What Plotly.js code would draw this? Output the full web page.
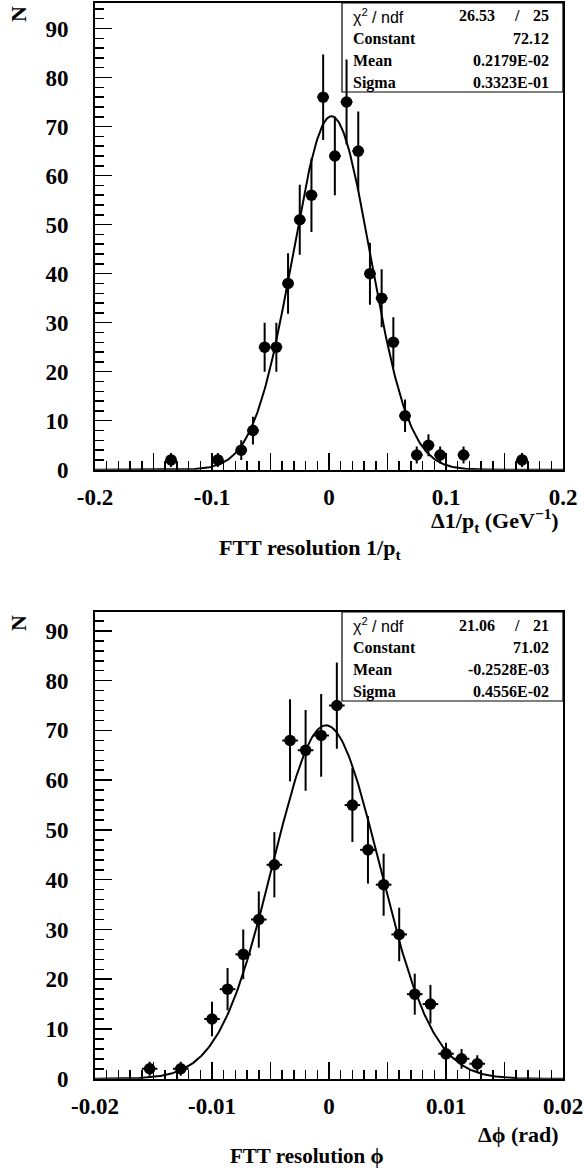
<!DOCTYPE html>
<html><head><meta charset="utf-8">
<script src="https://cdn.plot.ly/plotly-3.0.1.min.js"></script>
<style>html,body{margin:0;padding:0;background:#fff}#c{width:584px;height:1171px}</style>
</head><body><div id="c"></div>
<script>
// ---- data: FTT resolution 1/pt ----
const ptCenters = [-0.135,-0.095,-0.075,-0.065,-0.055,-0.045,-0.035,-0.025,-0.015,-0.005,0.005,0.015,0.025,0.035,0.045,0.055,0.065,0.075,0.085,0.095,0.115,0.165];
const ptCounts  = [2,2,4,8,25,25,38,51,56,76,64,75,65,40,35,26,11,3,5,3,3,2];
const ptBinHalf = 0.005;
const ptFit = [72.12, 0.2179E-02, 0.3323E-01]; // constant, mean, sigma
const ptStats = [["χ<sup>2</sup> / ndf","26.53","25"],["Constant","72.12"],["Mean","0.2179E-02"],["Sigma","0.3323E-01"]];
const ptTickVals = [-0.2,-0.15,-0.1,-0.05,0,0.05,0.1,0.15,0.2];
const ptTickText = ["-0.2","","-0.1","","0","","0.1","","0.2"];

// ---- data: FTT resolution phi ----
const phiCenters = [-0.01533,-0.01267,-0.01,-0.00867,-0.00733,-0.006,-0.00467,-0.00333,-0.002,-0.00067,0.00067,0.002,0.00333,0.00467,0.006,0.00733,0.00867,0.01,0.01133,0.01267];
const phiCounts  = [2,2,12,18,25,32,43,68,66,69,75,55,46,39,29,17,15,5,4,3];
const phiBinHalf = 0.000667;
const phiFit = [71.02, -0.2528E-03, 0.4556E-02];
const phiStats = [["χ<sup>2</sup> / ndf","21.06","21"],["Constant","71.02"],["Mean","-0.2528E-03"],["Sigma","0.4556E-02"]];
const phiTickVals = [-0.02,-0.015,-0.01,-0.005,0,0.005,0.01,0.015,0.02];
const phiTickText = ["-0.02","","-0.01","","0","","0.01","","0.02"];

const yTickVals = [0,10,20,30,40,50,60,70,80,90];

// ---- layout helpers (pixel -> paper) ----
const W=584,H=1171;
const px = x=>x/W, py = y=>1-y/H;
const serif = "Liberation Serif, Times New Roman, serif";

function gaussCurve(p, lo, hi){
  const xs=[],ys=[];
  const n=400;
  for(let i=0;i<=n;i++){const x=lo+(hi-lo)*i/n; xs.push(x); ys.push(p[0]*Math.exp(-0.5*Math.pow((x-p[1])/p[2],2)));}
  return {xs,ys};
}

const fitA = gaussCurve(ptFit,-0.2,0.2);
const fitB = gaussCurve(phiFit,-0.02,0.02);

const traces = [
  {x:fitA.xs,y:fitA.ys,mode:'lines',line:{color:'black',width:2},xaxis:'x',yaxis:'y',hoverinfo:'skip'},
  {x:ptCenters,y:ptCounts,mode:'markers',marker:{symbol:'circle',size:11.5,color:'black'},
   error_y:{type:'data',array:ptCounts.map(Math.sqrt),color:'black',thickness:2,width:0},
   error_x:{type:'constant',value:ptBinHalf,color:'black',thickness:2,width:0},xaxis:'x',yaxis:'y'},
  {x:fitB.xs,y:fitB.ys,mode:'lines',line:{color:'black',width:2},xaxis:'x2',yaxis:'y2',hoverinfo:'skip'},
  {x:phiCenters,y:phiCounts,mode:'markers',marker:{symbol:'circle',size:11.5,color:'black'},
   error_y:{type:'data',array:phiCounts.map(Math.sqrt),color:'black',thickness:2,width:0},
   error_x:{type:'constant',value:phiBinHalf,color:'black',thickness:2,width:0},xaxis:'x2',yaxis:'y2'}
];

function xAxis(range, vals, text, dtMinor, anchor){
  return {domain:[px(95),px(563)], range:range, anchor:anchor, showline:true, mirror:true, linewidth:2, linecolor:'black',
    ticks:'inside', ticklen:17, tickwidth:1.5, tickcolor:'black', tickmode:'array', tickvals:vals, ticktext:text,
    minor:{ticks:'inside', ticklen:9, tickwidth:1.5, tickcolor:'black', dtick:dtMinor, tick0:0, showgrid:false},
    showgrid:false, zeroline:false, ticklabelstandoff:6,
    tickfont:{family:serif, size:23, color:'black', weight:'bold'}};
}
function yAxis(domain, range, anchor){
  return {domain:domain, range:range, anchor:anchor, showline:true, mirror:true, linewidth:2, linecolor:'black',
    ticks:'inside', ticklen:17, tickwidth:1.5, tickcolor:'black', tickmode:'array', tickvals:yTickVals,
    minor:{ticks:'inside', ticklen:9, tickwidth:1.5, tickcolor:'black', dtick:2, tick0:0, showgrid:false},
    showgrid:false, zeroline:false, ticklabelstandoff:20,
    tickfont:{family:serif, size:23, color:'black', weight:'bold'}};
}

const annotations = [];
const shapes = [];
function statsBox(rows, top){
  const left=342, right=563, bottom=top+89, rowH=22.2;
  shapes.push({type:'rect',xref:'paper',yref:'paper',x0:px(left),x1:px(right),y0:py(bottom),y1:py(top),line:{color:'black',width:1.2},fillcolor:'rgba(0,0,0,0)',layer:'below'});
  rows.forEach((r,i)=>{
    const yc = top + 13 + i*rowH;
    const isChi = i===0;
    annotations.push({xref:'paper',yref:'paper',x:px(351),y:py(yc),xanchor:'left',yanchor:'middle',showarrow:false,
      text:r[0], font:isChi?{family:'Liberation Sans, Arial, sans-serif',size:16,color:'black'}:{family:serif,size:16,color:'black',weight:'bold'}});
    if(r.length===3){
      annotations.push({xref:'paper',yref:'paper',x:px(497),y:py(yc),xanchor:'right',yanchor:'middle',showarrow:false,text:r[1],font:{family:serif,size:16,color:'black',weight:'bold'}});
      annotations.push({xref:'paper',yref:'paper',x:px(517),y:py(yc),xanchor:'center',yanchor:'middle',showarrow:false,text:'/',font:{family:serif,size:16,color:'black',weight:'bold'}});
      annotations.push({xref:'paper',yref:'paper',x:px(551),y:py(yc),xanchor:'right',yanchor:'middle',showarrow:false,text:r[2],font:{family:serif,size:16,color:'black',weight:'bold'}});
    } else {
      annotations.push({xref:'paper',yref:'paper',x:px(551),y:py(yc),xanchor:'right',yanchor:'middle',showarrow:false,text:r[1],font:{family:serif,size:16,color:'black',weight:'bold'}});
    }
  });
}
statsBox(ptStats, 3);
statsBox(phiStats, 612);

function txt(x,y,t,anchor,size,angle){
  annotations.push({xref:'paper',yref:'paper',x:px(x),y:py(y),xanchor:anchor,yanchor:'middle',showarrow:false,text:t,textangle:angle||0,
    font:{family:serif,size:size,color:'black',weight:'bold'}});
}
txt(18,14,'N','center',22,-90);
txt(18,623,'N','center',22,-90);
txt(561,520,'Δ1/p<sub>t</sub> (GeV<sup>−1</sup>)','right',22);
txt(310,549,'FTT resolution 1/p<sub>t</sub>','center',22);
txt(561,1134,'Δϕ (rad)','right',22);
txt(307,1156,'FTT resolution ϕ','center',21);

const layout = {
  width:W, height:H, margin:{l:0,r:0,t:0,b:0}, showlegend:false,
  paper_bgcolor:'white', plot_bgcolor:'white',
  xaxis: xAxis([-0.2,0.2],ptTickVals,ptTickText,0.01,'y'),
  yaxis: yAxis([py(469.75),py(3)],[0,95.2],'x'),
  xaxis2: xAxis([-0.02,0.02],phiTickVals,phiTickText,0.001,'y2'),
  yaxis2: yAxis([py(1078.75),py(612)],[0,93.8],'x2'),
  annotations:annotations, shapes:shapes
};
Plotly.newPlot('c',traces,layout,{staticPlot:true});
</script></body></html>
